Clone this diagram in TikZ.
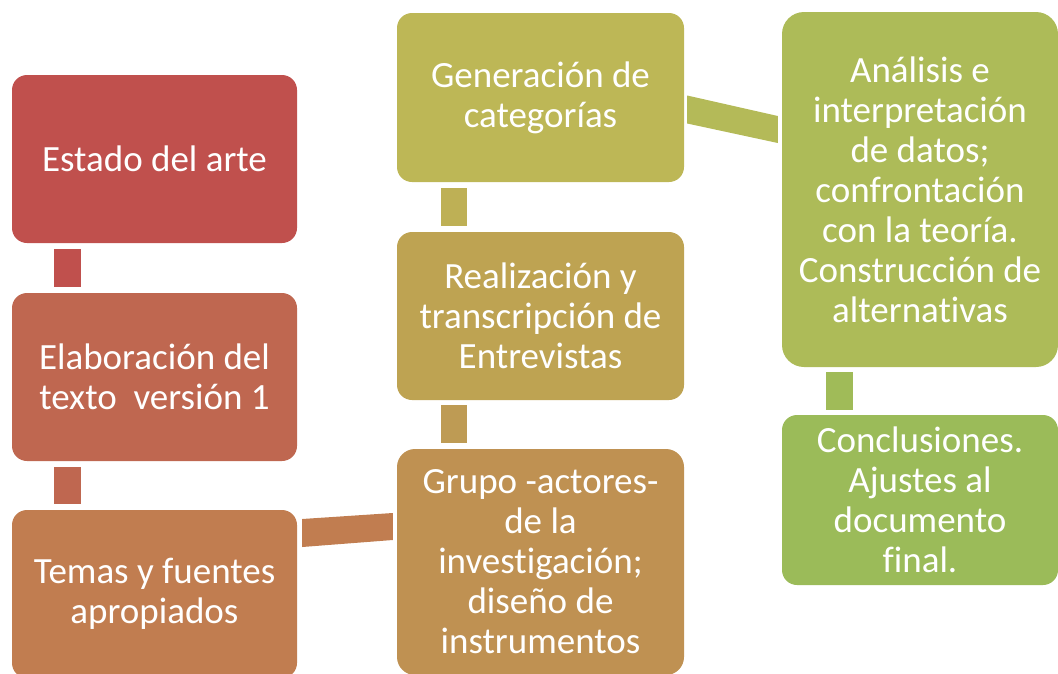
\documentclass[tikz,border=0pt]{standalone}
\usepackage{fontspec}
\setmainfont[Ligatures=NoCommon]{Carlito}
\usetikzlibrary{calc}
\definecolor{cA}{RGB}{192,80,77}
\definecolor{cB}{RGB}{191,103,80}
\definecolor{cC}{RGB}{193,125,80}
\definecolor{cD}{RGB}{191,145,82}
\definecolor{cE}{RGB}{190,163,82}
\definecolor{cF}{RGB}{189,183,86}
\definecolor{cG}{RGB}{173,187,88}
\definecolor{cH}{RGB}{155,187,89}
\definecolor{kAB}{RGB}{192,80,77}
\definecolor{kBC}{RGB}{191,103,80}
\definecolor{kCD}{RGB}{193,125,80}
\definecolor{kDE}{RGB}{190,155,84}
\definecolor{kEF}{RGB}{190,176,85}
\definecolor{kFG}{RGB}{180,186,88}
\definecolor{kGH}{RGB}{160,187,88}
\tikzset{
  box/.style={draw=none, text=white, align=center, inner sep=0pt,
    font=\fontsize{37}{40}\selectfont, rounded corners=15pt},
}
\begin{document}
\begin{tikzpicture}[x=1pt,y=-1pt]
\clip (0,0) rectangle (1058,673);
\node[box, fill=cA, minimum width=285, minimum height=168] (b1) at (154.5,159) {Estado del arte};
\node[box, fill=cB, minimum width=285, minimum height=168] (b2) at (154.5,377) {Elaboración del\\texto\ \ versión 1};
\node[box, fill=cC, minimum width=285, minimum height=168] (b3) at (154.5,594) {Temas y fuentes\\apropiados};
\node[box, fill=cD, minimum width=287, minimum height=226, rounded corners=18pt] (b4) at (540.5,562) {Grupo -actores-\\de la\\investigación;\\diseño de\\instrumentos};
\node[box, fill=cE, minimum width=287, minimum height=168] (b5) at (540.5,316) {Realización y\\transcripción de\\Entrevistas};
\node[box, fill=cF, minimum width=287, minimum height=169] (b6) at (540.5,97.5) {Generación de\\categorías};
\node[box, fill=cG, minimum width=276, minimum height=355, rounded corners=22pt] (b7) at (920,189.5) {Análisis e\\interpretación\\de datos;\\confrontación\\con la teoría.\\Construcción de\\alternativas};
\node[box, fill=cH, minimum width=276, minimum height=170] (b8) at (920,500) {Conclusiones.\\Ajustes al\\documento\\final.};
% connectors
\fill[kAB] ($(b1.south west)+(42,6)$) rectangle ($(b2.north west)+(69,-6)$);
\fill[kBC] ($(b2.south west)+(42,6)$) rectangle ($(b3.north west)+(69,-6)$);
\fill[kCD] ($(b3.east)+(5,-75)$) -- ($(b4.west)+(-4,-49)$) -- ($(b4.west)+(-4,-22)$) -- ($(b3.east)+(5,-47)$) -- cycle;
\fill[kDE] ($(b4.north west)+(44,-6)$) rectangle ($(b5.south west)+(70,5)$);
\fill[kEF] ($(b5.north west)+(44,-6)$) rectangle ($(b6.south west)+(70,6)$);
\fill[kFG] ($(b6.east)+(3,-2)$) -- ($(b7.west)+(-4,-73.5)$) -- ($(b7.west)+(-4,-46.5)$) -- ($(b6.east)+(3,26)$) -- cycle;
\fill[kGH] ($(b7.south west)+(44,5)$) rectangle ($(b8.north west)+(71,-5)$);
\end{tikzpicture}
\end{document}
